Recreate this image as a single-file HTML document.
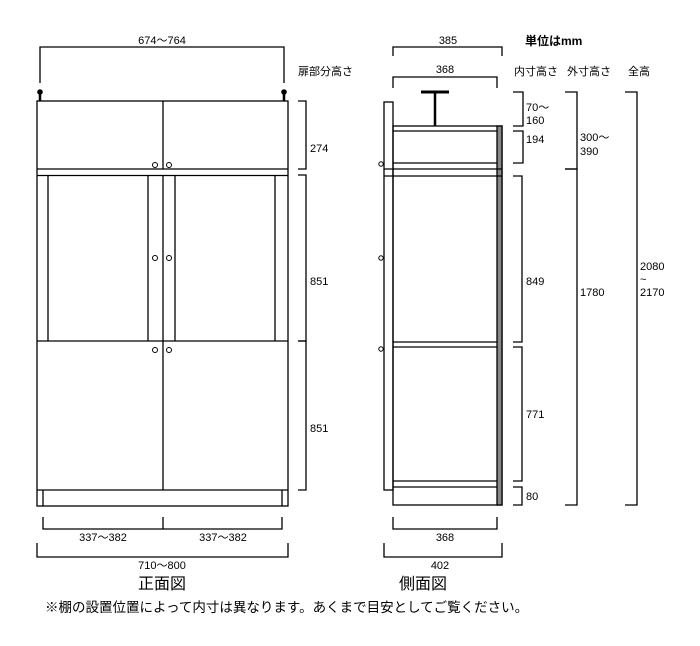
<!DOCTYPE html>
<html><head><meta charset="utf-8"><style>
html,body{margin:0;padding:0;background:#fff;}
svg{display:block;}
text{font-family:"Liberation Sans","Noto Sans CJK JP",sans-serif;font-size:11px;fill:#000;}
.b{font-size:16px;}
</style></head><body>
<svg width="700" height="646" viewBox="0 0 700 646" xmlns="http://www.w3.org/2000/svg">
<g fill="none" stroke="#000" stroke-width="1.3">
<!-- front view -->
<polyline points="40,83 40,47 284,47 284,83"/>
<line x1="40" y1="92" x2="40" y2="101" stroke-width="2.5"/>
<line x1="284" y1="92" x2="284" y2="101" stroke-width="2.5"/>
<rect x="37" y="101" width="251" height="405"/>
<line x1="163" y1="101" x2="163" y2="169"/>
<line x1="37" y1="169" x2="288" y2="169"/>
<line x1="37" y1="175.5" x2="288" y2="175.5"/>
<line x1="48" y1="175.5" x2="48" y2="341"/>
<line x1="148" y1="175.5" x2="148" y2="341"/>
<line x1="163" y1="175.5" x2="163" y2="490"/>
<line x1="175" y1="175.5" x2="175" y2="341"/>
<line x1="275" y1="175.5" x2="275" y2="341"/>
<line x1="37" y1="341" x2="288" y2="341"/>
<line x1="37" y1="490" x2="288" y2="490"/>
<line x1="43" y1="490" x2="43" y2="506"/>
<line x1="282" y1="490" x2="282" y2="506"/>
<g stroke-width="1">
<circle cx="155" cy="165" r="2.5"/><circle cx="169" cy="165" r="2.5"/>
<circle cx="155" cy="258" r="2.5"/><circle cx="169" cy="258" r="2.5"/>
<circle cx="155" cy="350" r="2.5"/><circle cx="169" cy="350" r="2.5"/>
</g>
<polyline points="298,101 306,101 306,169 298,169"/>
<polyline points="298,175 306,175 306,341 298,341"/>
<polyline points="298,341 306,341 306,490 298,490"/>
<polyline points="43,517 43,529 282,529 282,517"/>
<line x1="163" y1="517" x2="163" y2="529"/>
<polyline points="37,543 37,557 288,557 288,543"/>
<!-- side view -->
<polyline points="393,56 393,47 502,47 502,56"/>
<polyline points="393,88 393,77 497,77 497,88"/>
<line x1="421" y1="92" x2="449" y2="92" stroke-width="3"/>
<line x1="435" y1="92" x2="435" y2="126" stroke-width="2.5"/>
<rect x="384" y="102" width="9" height="388"/>
<rect x="393" y="126" width="109" height="379"/>
<rect x="497" y="126" width="5" height="379" fill="#888"/>
<line x1="393" y1="131" x2="497" y2="131"/>
<line x1="393" y1="163" x2="497" y2="163"/>
<line x1="384" y1="169" x2="502" y2="169"/>
<line x1="384" y1="176" x2="502" y2="176"/>
<line x1="393" y1="342" x2="497" y2="342"/>
<line x1="393" y1="347" x2="497" y2="347"/>
<line x1="393" y1="481" x2="497" y2="481"/>
<line x1="393" y1="487" x2="497" y2="487"/>
<g stroke-width="1">
<circle cx="381" cy="164" r="2.2"/><circle cx="381" cy="258" r="2.2"/><circle cx="381" cy="349" r="2.2"/>
</g>
<polyline points="513,92 523,92 523,126 513,126"/>
<polyline points="513,131 523,131 523,163 513,163"/>
<polyline points="513,176 522,176 522,342 513,342"/>
<polyline points="513,347 522,347 522,481 513,481"/>
<polyline points="513,487 522,487 522,505 513,505"/>
<polyline points="565,92 577,92 577,169 565,169"/>
<polyline points="565,169 577,169 577,505 565,505"/>
<polyline points="625,92 637,92 637,505 625,505"/>
<polyline points="393,517 393,529 497,529 497,517"/>
<polyline points="384,543 384,557 502,557 502,543"/>
</g>
<circle cx="40" cy="92" r="2.8" fill="#000"/>
<circle cx="284" cy="92" r="2.8" fill="#000"/>
<text x="162" y="44" text-anchor="middle">674〜764</text>
<text x="298" y="75">扉部分高さ</text>
<text x="310" y="152">274</text>
<text x="310" y="285">851</text>
<text x="310" y="432">851</text>
<text x="103" y="541" text-anchor="middle">337〜382</text>
<text x="223" y="541" text-anchor="middle">337〜382</text>
<text x="162" y="569" text-anchor="middle">710〜800</text>
<text x="162" y="589" text-anchor="middle" class="b">正面図</text>
<text x="448" y="44" text-anchor="middle">385</text>
<text x="445" y="73" text-anchor="middle">368</text>
<text x="525" y="45" style="font-weight:bold;font-size:12px">単位はmm</text>
<text x="514" y="75">内寸高さ</text>
<text x="567" y="75">外寸高さ</text>
<text x="628" y="75">全高</text>
<text x="526" y="111">70〜</text>
<text x="526" y="124">160</text>
<text x="526" y="143">194</text>
<text x="580" y="141">300〜</text>
<text x="580" y="155">390</text>
<text x="526" y="285">849</text>
<text x="580" y="296">1780</text>
<text x="640" y="270">2080</text>
<text x="640" y="283">~</text>
<text x="640" y="296">2170</text>
<text x="526" y="418">771</text>
<text x="526" y="500">80</text>
<text x="445" y="541" text-anchor="middle">368</text>
<text x="440" y="569" text-anchor="middle">402</text>
<text x="423" y="589" text-anchor="middle" class="b">側面図</text>
<text x="45" y="612" style="font-size:13.5px">※棚の設置位置によって内寸は異なります。あくまで目安としてご覧ください。</text>
</svg>
</body></html>
